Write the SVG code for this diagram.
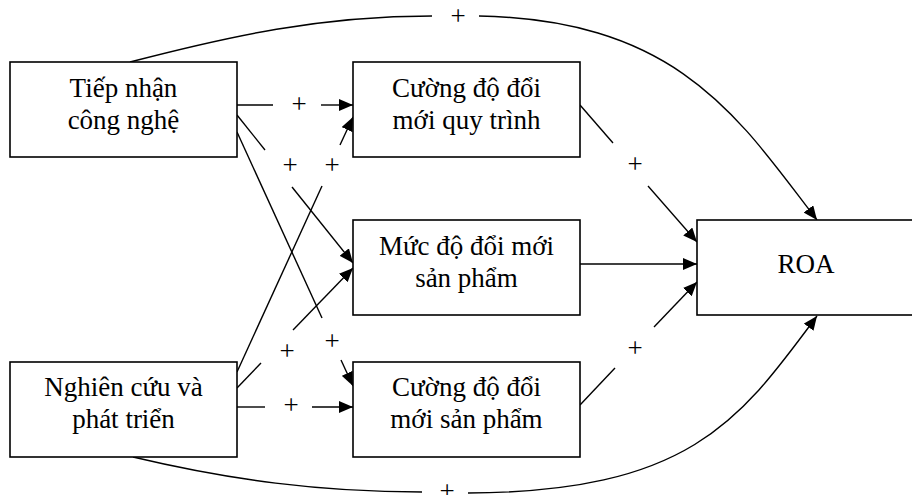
<svg xmlns="http://www.w3.org/2000/svg" width="912" height="495" viewBox="0 0 912 495">
  <style>
    .box { fill: #ffffff; stroke: #000000; stroke-width: 1.6; }
    .lbl { font-family: "Liberation Serif", "Times New Roman", serif; font-size: 27px; fill: #000000; text-anchor: middle; }
    .plus { font-family: "Liberation Serif", "Times New Roman", serif; font-size: 27px; fill: #000000; text-anchor: middle; }
    .edge { fill: none; stroke: #000000; stroke-width: 1.4; }
    .arrow { marker-end: url(#head); }
  </style>
  <defs>
    <marker id="head" viewBox="0 0 14 12" refX="14" refY="6" markerWidth="14" markerHeight="12" markerUnits="userSpaceOnUse" orient="auto">
      <path d="M0,0 L14,6 L0,12 z" fill="#000000"/>
    </marker>
  </defs>

  <rect width="912" height="495" fill="#ffffff"/>

  <!-- connectors: each link is split around its sign label -->
  <g id="connectors">
    <!-- Tiếp nhận công nghệ -> ROA (over the top) -->
    <path class="edge" d="M130,62 C230,36 320,16 432,16"/>
    <path class="edge arrow" d="M479,16 C680,20 740,120 817,220"/>
    <text class="plus" x="458" y="25">+</text>

    <!-- Tiếp nhận công nghệ -> Cường độ đổi mới quy trình -->
    <path class="edge" d="M237,105 H273"/>
    <path class="edge arrow" d="M321,105 H353"/>
    <text class="plus" x="299" y="113">+</text>

    <!-- Tiếp nhận công nghệ -> Mức độ đổi mới sản phẩm -->
    <path class="edge" d="M237,115 L265,150"/>
    <path class="edge arrow" d="M292,187 L353,263"/>
    <text class="plus" x="290" y="174">+</text>

    <!-- Tiếp nhận công nghệ -> Cường độ đổi mới sản phẩm -->
    <path class="edge" d="M237,132 L322,318"/>
    <path class="edge arrow" d="M341,360 L353,386"/>
    <text class="plus" x="332" y="350">+</text>

    <!-- Nghiên cứu và phát triển -> Cường độ đổi mới quy trình -->
    <path class="edge" d="M237,372 L322,186"/>
    <path class="edge arrow" d="M340,145 L353,117"/>
    <text class="plus" x="332" y="174">+</text>

    <!-- Nghiên cứu và phát triển -> Mức độ đổi mới sản phẩm -->
    <path class="edge" d="M237,388 L261,363"/>
    <path class="edge arrow" d="M293,330 L353,268"/>
    <text class="plus" x="287" y="360">+</text>

    <!-- Nghiên cứu và phát triển -> Cường độ đổi mới sản phẩm -->
    <path class="edge" d="M237,407 H265"/>
    <path class="edge arrow" d="M312,407 H353"/>
    <text class="plus" x="291" y="414">+</text>

    <!-- Cường độ đổi mới quy trình -> ROA -->
    <path class="edge" d="M580,105 L613,143"/>
    <path class="edge arrow" d="M648,186 L697,242"/>
    <text class="plus" x="635" y="173">+</text>

    <!-- Mức độ đổi mới sản phẩm -> ROA -->
    <path class="edge arrow" d="M580,264 H697"/>

    <!-- Cường độ đổi mới sản phẩm -> ROA -->
    <path class="edge" d="M580,405 L615,368"/>
    <path class="edge arrow" d="M654,327 L697,282"/>
    <text class="plus" x="635" y="357">+</text>

    <!-- Nghiên cứu và phát triển -> ROA (under the bottom) -->
    <path class="edge" d="M133,457 C230,480 320,492 422,492"/>
    <path class="edge arrow" d="M468,493 C690,492 740,420 817,316"/>
    <text class="plus" x="447" y="500">+</text>
  </g>

  <g id="tiep-nhan-cong-nghe">
    <rect class="box" x="10" y="62" width="227" height="95"/>
    <text class="lbl" x="123.5" y="97">Tiếp nhận</text>
    <text class="lbl" x="123.5" y="129">công nghệ</text>
  </g>

  <g id="nghien-cuu-phat-trien">
    <rect class="box" x="10" y="362" width="227" height="95"/>
    <text class="lbl" x="123.5" y="396">Nghiên cứu và</text>
    <text class="lbl" x="123.5" y="428">phát triển</text>
  </g>

  <g id="cuong-do-doi-moi-quy-trinh">
    <rect class="box" x="353" y="62" width="227" height="95"/>
    <text class="lbl" x="466.5" y="97">Cường độ đổi</text>
    <text class="lbl" x="466.5" y="129">mới quy trình</text>
  </g>

  <g id="muc-do-doi-moi-san-pham">
    <rect class="box" x="353" y="220" width="227" height="95"/>
    <text class="lbl" x="466.5" y="255">Mức độ đổi mới</text>
    <text class="lbl" x="466.5" y="287">sản phẩm</text>
  </g>

  <g id="cuong-do-doi-moi-san-pham">
    <rect class="box" x="353" y="362" width="227" height="95"/>
    <text class="lbl" x="466.5" y="396">Cường độ đổi</text>
    <text class="lbl" x="466.5" y="428">mới sản phẩm</text>
  </g>

  <g id="roa">
    <rect class="box" x="697" y="220" width="230" height="95"/>
    <text class="lbl" x="806" y="273">ROA</text>
  </g>
</svg>
